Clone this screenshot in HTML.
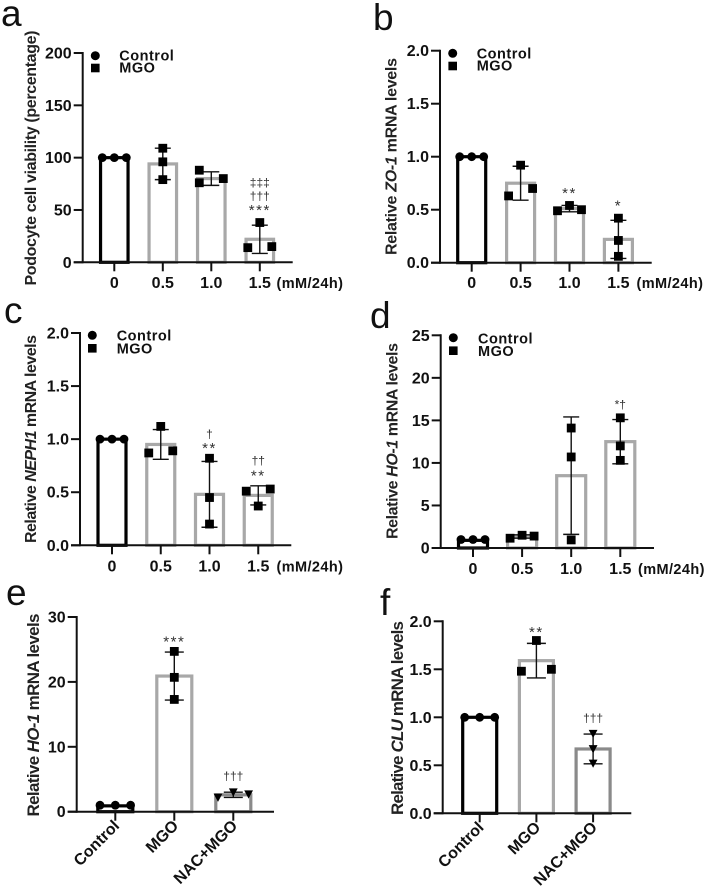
<!DOCTYPE html>
<html lang="en">
<head>
<meta charset="utf-8">
<title>Bar charts a-f</title>
<style>
html,body{margin:0;padding:0;background:#fff;}
svg{display:block;font-family:"Liberation Sans",sans-serif;filter:blur(.3px);}
.letter{font-size:37px;fill:#111;}
.ytitle{font-size:16px;font-weight:bold;fill:#222;text-anchor:middle;}
.legend{font-size:14.5px;font-weight:bold;fill:#111;letter-spacing:.5px;}
.unit{font-size:14.5px;font-weight:bold;fill:#111;letter-spacing:.4px;}
.tick{font-size:16px;font-weight:bold;fill:#111;}
.note{fill:#333;text-anchor:middle;}
</style>
</head>
<body>
<svg id="fig" width="708" height="889" viewBox="0 0 708 889" xmlns="http://www.w3.org/2000/svg">
  <rect width="708" height="889" fill="#fff"/>
  <text class="letter" x="1" y="26">a</text>
  <text class="letter" x="373" y="30">b</text>
  <text class="letter" x="4" y="323">c</text>
  <text class="letter" x="370" y="328">d</text>
  <text class="letter" x="6" y="605">e</text>
  <text class="letter" x="380" y="615">f</text>

  <text class="ytitle" transform="translate(36 158) rotate(-90)" textLength="255">Podocyte cell viability (percentage)</text>
  <text class="ytitle" transform="translate(396.500 156.500) rotate(-90)" textLength="197">Relative <tspan font-style="italic">ZO-1</tspan> mRNA levels</text>
  <text class="ytitle" transform="translate(36 439) rotate(-90)" textLength="208">Relative <tspan font-style="italic">NEPH1</tspan> mRNA levels</text>
  <text class="ytitle" transform="translate(397.500 441) rotate(-90)" textLength="196">Relative <tspan font-style="italic">HO-1</tspan> mRNA levels</text>
  <text class="ytitle" style="font-size:17px" transform="translate(39 715) rotate(-90)" textLength="203">Relative <tspan font-style="italic">HO-1</tspan> mRNA levels</text>
  <text class="ytitle" style="font-size:17px" transform="translate(403 718) rotate(-90)" textLength="194">Relative <tspan font-style="italic">CLU</tspan> mRNA levels</text>

  <g>
    <circle cx="95.300" cy="55.700" r="4.500" fill="#000"/><rect x="91" y="63.700" width="8.600" height="8.600" fill="#000"/>
    <text class="legend" x="119.300" y="60.700">Control</text>
    <text class="legend" x="119.300" y="72.700">MGO</text>
  </g>
  <g>
    <circle cx="452.700" cy="53.300" r="4.500" fill="#000"/><rect x="448.400" y="61.700" width="8.600" height="8.600" fill="#000"/>
    <text class="legend" x="476.700" y="58.300">Control</text>
    <text class="legend" x="476.700" y="70.700">MGO</text>
  </g>
  <g>
    <circle cx="92.300" cy="335.300" r="4.500" fill="#000"/><rect x="88" y="344" width="8.600" height="8.600" fill="#000"/>
    <text class="legend" x="116.700" y="340.700">Control</text>
    <text class="legend" x="116.700" y="353.300">MGO</text>
  </g>
  <g>
    <circle cx="453.300" cy="337.700" r="4.500" fill="#000"/><rect x="449" y="346.400" width="8.600" height="8.600" fill="#000"/>
    <text class="legend" x="478" y="343.300">Control</text>
    <text class="legend" x="478" y="356">MGO</text>
  </g>

  <text class="unit" x="276.500" y="288">(mM/24h)</text>
  <text class="unit" x="636.500" y="288">(mM/24h)</text>
  <text class="unit" x="276.500" y="571.500">(mM/24h)</text>
  <text class="unit" x="638" y="574">(mM/24h)</text>
</svg>
<script>
/* ---------- data: panel a ---------- */
const aCategories = ['0', '0.5', '1.0', '1.5'];
const aTicks = [0, 50, 100, 150, 200];
const aTickLabels = ['0', '50', '100', '150', '200'];
const aMeans = [100, 94, 80, 22];
const aSds = [0, 15, 6.5, 13.500];
const aPoints = [[100, 100, 100], [109, 96, 79], [88, 80, 76], [38, 14, 15]];
const aSlots = [[-1, 0, 1], [0, 0, 0], [-1, 1, -1], [0, -1, 1]];
const aNoteCats = [3, 3, 3];
const aNoteLabels = ['‡‡‡', '†††', '***'];
const aNoteValues = [76.7, 63.6, 52.8];
/* ---------- data: panel b ---------- */
const bCategories = ['0', '0.5', '1.0', '1.5'];
const bTicks = [0, 0.5, 1, 1.5, 2];
const bTickLabels = ['0.0', '0.5', '1.0', '1.5', '2.0'];
const bMeans = [1, 0.75, 0.51, 0.22];
const bSds = [0, 0.16, 0.03, 0.18];
const bPoints = [[1, 1, 1], [0.92, 0.63, 0.70], [0.49, 0.54, 0.50], [0.42, 0.21, 0.06]];
const bSlots = [[-1, 0, 1], [0, -1, 1], [-1, 0, 1], [0, 0, 0]];
const bNoteCats = [2, 3];
const bNoteLabels = ['**', '*'];
const bNoteValues = [0.686, 0.566];
/* ---------- data: panel c ---------- */
const cCategories = ['0', '0.5', '1.0', '1.5'];
const cTicks = [0, 0.5, 1, 1.5, 2];
const cTickLabels = ['0.0', '0.5', '1.0', '1.5', '2.0'];
const cMeans = [1, 0.95, 0.48, 0.47];
const cSds = [0, 0.14, 0.31, 0.09];
const cPoints = [[1, 1, 1], [1.12, 0.87, 0.89], [0.82, 0.45, 0.20], [0.51, 0.53, 0.37]];
const cSlots = [[-1, 0, 1], [0, -1, 1], [0, 0, 0], [-1, 1, 0]];
const cNoteCats = [2, 2, 3, 3];
const cNoteLabels = ['†', '**', '††', '**'];
const cNoteValues = [1.055, 0.944, 0.803, 0.684];
/* ---------- data: panel d ---------- */
const dCategories = ['0', '0.5', '1.0', '1.5'];
const dTicks = [0, 5, 10, 15, 20, 25];
const dTickLabels = ['0', '5', '10', '15', '20', '25'];
const dMeans = [0.9, 1.35, 8.5, 12.5];
const dSds = [0, 0.2, 6.9, 2.6];
const dPoints = [[1, 1, 1], [1.15, 1.5, 1.4], [14.1, 10.7, 0.95], [15.3, 12.0, 10.3]];
const dSlots = [[-1, 0, 1], [-1, 0, 1], [0, 0, 0], [0, 0, 0]];
const dNoteCats = [3];
const dNoteLabels = ['*†'];
const dNoteValues = [16.9];
/* ---------- data: panel e ---------- */
const eCategories = ['Control', 'MGO', 'NAC+MGO'];
const eTicks = [0, 10, 20, 30];
const eTickLabels = ['0', '10', '20', '30'];
const eMeans = [0.9, 20.9, 2.6];
const eSds = [0, 3.7, 0.4];
const ePoints = [[1, 1, 1], [24.7, 20.7, 17.3], [2.2, 3.0, 2.7]];
const eSlots = [[-1, 0, 1], [0, 0, 0], [-1, 0, 1]];
const eNoteCats = [1, 2];
const eNoteLabels = ['***', '†††'];
const eNoteValues = [26.7, 5.6];
/* ---------- data: panel f ---------- */
const fCategories = ['Control', 'MGO', 'NAC+MGO'];
const fTicks = [0, 0.5, 1, 1.5, 2];
const fTickLabels = ['0.0', '0.5', '1.0', '1.5', '2.0'];
const fMeans = [1, 1.59, 0.67];
const fSds = [0, 0.18, 0.155];
const fPoints = [[1, 1, 1], [1.80, 1.48, 1.50], [0.83, 0.67, 0.52]];
const fSlots = [[-1, 0, 1], [0, -1, 1], [0, 0, 0]];
const fNoteCats = [1, 2];
const fNoteLabels = ['**', '†††'];
const fNoteValues = [1.92, 0.996];

/* ---------- layout (separate from data) ---------- */
const GREY = '#a8a8a8', DARKGREY = '#8a8a8a';
const panels = [
  {id:'a', axisX:82.7, y0:262.3, yTop:53, yMax:200, right:292.7, cat0:114.3, step:48.5, barW:27.5, slot:12, cap:8, labelY:288, rotated:false,
   categories:aCategories, ticks:aTicks, tickLabels:aTickLabels, means:aMeans, sds:aSds, points:aPoints, slots:aSlots, noteCats:aNoteCats, noteLabels:aNoteLabels, noteValues:aNoteValues,
   strokes:['#000',GREY,GREY,GREY], markers:['circle','square','square','square']},
  {id:'b', axisX:440, y0:262.7, yTop:50.7, yMax:2, right:651.7, cat0:471.7, step:48.9, barW:28, slot:12, cap:8, labelY:288, rotated:false,
   categories:bCategories, ticks:bTicks, tickLabels:bTickLabels, means:bMeans, sds:bSds, points:bPoints, slots:bSlots, noteCats:bNoteCats, noteLabels:bNoteLabels, noteValues:bNoteValues,
   strokes:['#000',GREY,GREY,GREY], markers:['circle','square','square','square']},
  {id:'c', axisX:80, y0:545.3, yTop:333, yMax:2, right:291.3, cat0:112, step:48.75, barW:28, slot:12, cap:8, labelY:571.5, rotated:false,
   categories:cCategories, ticks:cTicks, tickLabels:cTickLabels, means:cMeans, sds:cSds, points:cPoints, slots:cSlots, noteCats:cNoteCats, noteLabels:cNoteLabels, noteValues:cNoteValues,
   strokes:['#000',GREY,GREY,GREY], markers:['circle','square','square','square']},
  {id:'d', axisX:440.7, y0:548, yTop:335.3, yMax:25, right:654, cat0:473, step:49.1, barW:29, slot:12, cap:8, labelY:574, rotated:false,
   categories:dCategories, ticks:dTicks, tickLabels:dTickLabels, means:dMeans, sds:dSds, points:dPoints, slots:dSlots, noteCats:dNoteCats, noteLabels:dNoteLabels, noteValues:dNoteValues,
   strokes:['#000',GREY,GREY,GREY], markers:['circle','square','square','square']},
  {id:'e', axisX:76.7, y0:811.7, yTop:617, yMax:30, right:274, cat0:115.3, step:59, barW:35, slot:15.3, cap:9.5, labelY:0, rotated:true,
   categories:eCategories, ticks:eTicks, tickLabels:eTickLabels, means:eMeans, sds:eSds, points:ePoints, slots:eSlots, noteCats:eNoteCats, noteLabels:eNoteLabels, noteValues:eNoteValues,
   strokes:['#000',GREY,DARKGREY], markers:['circle','square','triangle']},
  {id:'f', axisX:442.7, y0:813.3, yTop:621.3, yMax:2, right:631.3, cat0:479.7, step:56.7, barW:34, slot:15, cap:9.5, labelY:0, rotated:true,
   categories:fCategories, ticks:fTicks, tickLabels:fTickLabels, means:fMeans, sds:fSds, points:fPoints, slots:fSlots, noteCats:fNoteCats, noteLabels:fNoteLabels, noteValues:fNoteValues,
   strokes:['#000',GREY,DARKGREY], markers:['circle','square','triangle']}
];

const NS = 'http://www.w3.org/2000/svg';
const svg = document.getElementById('fig');
function make(tag, attrs, parent) {
  const node = document.createElementNS(NS, tag);
  for (const k in attrs) node.setAttribute(k, attrs[k]);
  parent.appendChild(node);
  return node;
}

panels.forEach(function (p) {
  const yScale = function (v) { return p.y0 - (v / p.yMax) * (p.y0 - p.yTop); };
  const xScale = function (i) { return p.cat0 + i * p.step; };

  const g = make('g', {}, svg);
  
  

  /* bars */
  p.means.forEach(function (m, i) {
    const bar = make('rect', {x: xScale(i) - p.barW / 2, y: yScale(m), width: p.barW, height: p.y0 - yScale(m), fill: '#fff', stroke: p.strokes[i], 'stroke-width': 3.2}, g);
    
    
  });

  /* error bars */
  p.sds.forEach(function (s, i) {
    if (!s) return;
    const cx = xScale(i);
    const hi = yScale(p.means[i] + s), lo = yScale(p.means[i] - s);
    const err = make('path', {d: 'M' + cx + ' ' + hi + 'V' + lo + 'M' + (cx - p.cap) + ' ' + hi + 'H' + (cx + p.cap) + 'M' + (cx - p.cap) + ' ' + lo + 'H' + (cx + p.cap), fill: 'none', stroke: '#111', 'stroke-width': 1.4}, g);
    
    
  });

  /* points */
  p.points.forEach(function (values, i) {
    values.forEach(function (v, j) {
      const px = xScale(i) + p.slots[i][j] * p.slot, py = yScale(v);
      let mark;
      if (p.markers[i] === 'circle') {
        mark = make('circle', {cx: px, cy: py, r: 4.4, fill: '#000'}, g);
      } else if (p.markers[i] === 'square') {
        mark = make('rect', {x: px - 4.4, y: py - 4.4, width: 8.8, height: 8.8, fill: '#000'}, g);
      } else {
        mark = make('path', {d: 'M' + (px - 4.4) + ' ' + (py - 3.8) + 'H' + (px + 4.4) + 'L' + px + ' ' + (py + 4.4) + 'Z', fill: '#000'}, g);
      }
      
      
    });
  });

  /* axes */
  const yAxis = make('line', {x1: p.axisX, x2: p.axisX, y1: p.yTop - 1, y2: p.y0 + 1, stroke: '#111', 'stroke-width': 2}, g);
  
  
  const xAxis = make('line', {x1: p.axisX - 9, x2: p.right, y1: p.y0, y2: p.y0, stroke: '#111', 'stroke-width': 2}, g);
  
  

  p.ticks.forEach(function (t, i) {
    const y = yScale(t);
    const tm = make('line', {x1: p.axisX - 9, x2: p.axisX, y1: y, y2: y, stroke: '#111', 'stroke-width': 2}, g);
    
    
    const lab = make('text', {class: 'tick', x: p.axisX - 11, y: y + 5.5, 'text-anchor': 'end'}, g);
    lab.textContent = p.tickLabels[i];
    
    
  });

  p.categories.forEach(function (c, i) {
    const x = xScale(i);
    const tm = make('line', {x1: x, x2: x, y1: p.y0, y2: p.y0 + 9, stroke: '#111', 'stroke-width': 2}, g);
    
    
    const attrs = p.rotated
      ? {class: 'tick', 'text-anchor': 'end', transform: 'translate(' + (x + 5) + ' ' + (p.y0 + 15) + ') rotate(-45)', style: 'font-size:16px'}
      : {class: 'tick', 'text-anchor': 'middle', x: x, y: p.labelY};
    const lab = make('text', attrs, g);
    lab.textContent = c;
    
    
  });

  /* significance notes */
  p.noteLabels.forEach(function (label, i) {
    const x = xScale(p.noteCats[i]);
    const y = yScale(p.noteValues[i]);
    const stars = label.indexOf('*') === 0 && label.indexOf('†') < 0;
    const note = make('text', {class: 'note', x: x, y: stars ? y + 8 : y + 4.5, style: stars ? 'font-size:15px;letter-spacing:1.5px' : 'font-size:12px'}, g);
    note.textContent = label;
    
    
  });
});
</script>
</body>
</html>
